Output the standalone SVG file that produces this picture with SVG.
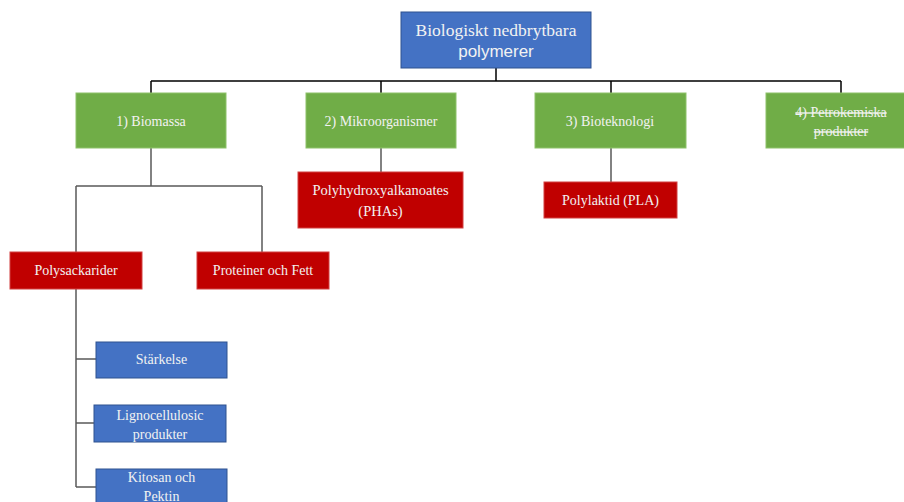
<svg xmlns="http://www.w3.org/2000/svg" width="904" height="502" viewBox="0 0 904 502">
<style>
.t{font-family:"Liberation Serif","Times New Roman",serif;font-size:14px;fill:#F2F2F2;text-anchor:middle}
.green{fill:#70AD47;stroke:#8DC26A;stroke-width:1}
.red{fill:#C00000;stroke:#D24040;stroke-width:1}
.blue{fill:#4472C4;stroke:#2F528F;stroke-width:1}
.c1{fill:none;stroke:#000;stroke-width:1.5}
.c2{fill:none;stroke:#595959;stroke-width:1.5}
</style>
<rect width="904" height="502" fill="#fff"/>
<g id="connectors">
<path class="c1" d="M496 68V81M151 81H841M151 81V93M381 81V93M611 81V93M841 81V93"/>
<path class="c2" d="M381 148V172M611 148V182M151 148V186M76 186H262M76 186V252M262 186V252M76 289V487M76 359H96M76 423H94M76 487H96"/>
</g>
<g id="root">
<rect class="blue" x="401" y="12" width="190" height="56"/>
<text class="t" x="496" y="36" style="font-size:17.5px">Biologiskt nedbrytbara</text>
<text class="t" x="496" y="57" style="font-family:'Liberation Sans',Arial,sans-serif;font-size:17px">polymerer</text>
</g>
<g id="biomassa">
<rect class="green" x="76" y="93" width="150" height="55"/>
<text class="t" x="151" y="126">1) Biomassa</text>
</g>
<g id="mikroorganismer">
<rect class="green" x="306" y="93" width="150" height="55"/>
<text class="t" x="381" y="126">2) Mikroorganismer</text>
</g>
<g id="bioteknologi">
<rect class="green" x="535" y="93" width="151" height="55"/>
<text class="t" x="610" y="126">3) Bioteknologi</text>
</g>
<g id="petrokemiska">
<rect class="green" x="766" y="93" width="150" height="55"/>
<text class="t" x="841" y="117" text-decoration="line-through">4) Petrokemiska</text>
<text class="t" x="841" y="136" text-decoration="line-through">produkter</text>
</g>
<g id="phas">
<rect class="red" x="298" y="172" width="165" height="56"/>
<text class="t" x="380.5" y="195" style="font-size:14.5px">Polyhydroxyalkanoates</text>
<text class="t" x="380.5" y="216" style="font-size:14.5px">(PHAs)</text>
</g>
<g id="pla">
<rect class="red" x="544" y="182" width="133" height="36"/>
<text class="t" x="610.5" y="205">Polylaktid  (PLA)</text>
</g>
<g id="polysackarider">
<rect class="red" x="10" y="252" width="132" height="37"/>
<text class="t" x="76" y="275">Polysackarider</text>
</g>
<g id="proteiner">
<rect class="red" x="197" y="252" width="132" height="37"/>
<text class="t" x="263" y="275">Proteiner  och Fett</text>
</g>
<g id="starkelse">
<rect class="blue" x="96" y="342" width="131" height="36"/>
<text class="t" x="161.5" y="364">Stärkelse</text>
</g>
<g id="lignocellulosic">
<rect class="blue" x="94" y="405" width="132" height="37"/>
<text class="t" x="160" y="420">Lignocellulosic</text>
<text class="t" x="160" y="439">produkter</text>
</g>
<g id="kitosan">
<rect class="blue" x="96" y="469" width="131" height="38"/>
<text class="t" x="161.5" y="482">Kitosan  och</text>
<text class="t" x="161.5" y="501">Pektin</text>
</g>
</svg>
